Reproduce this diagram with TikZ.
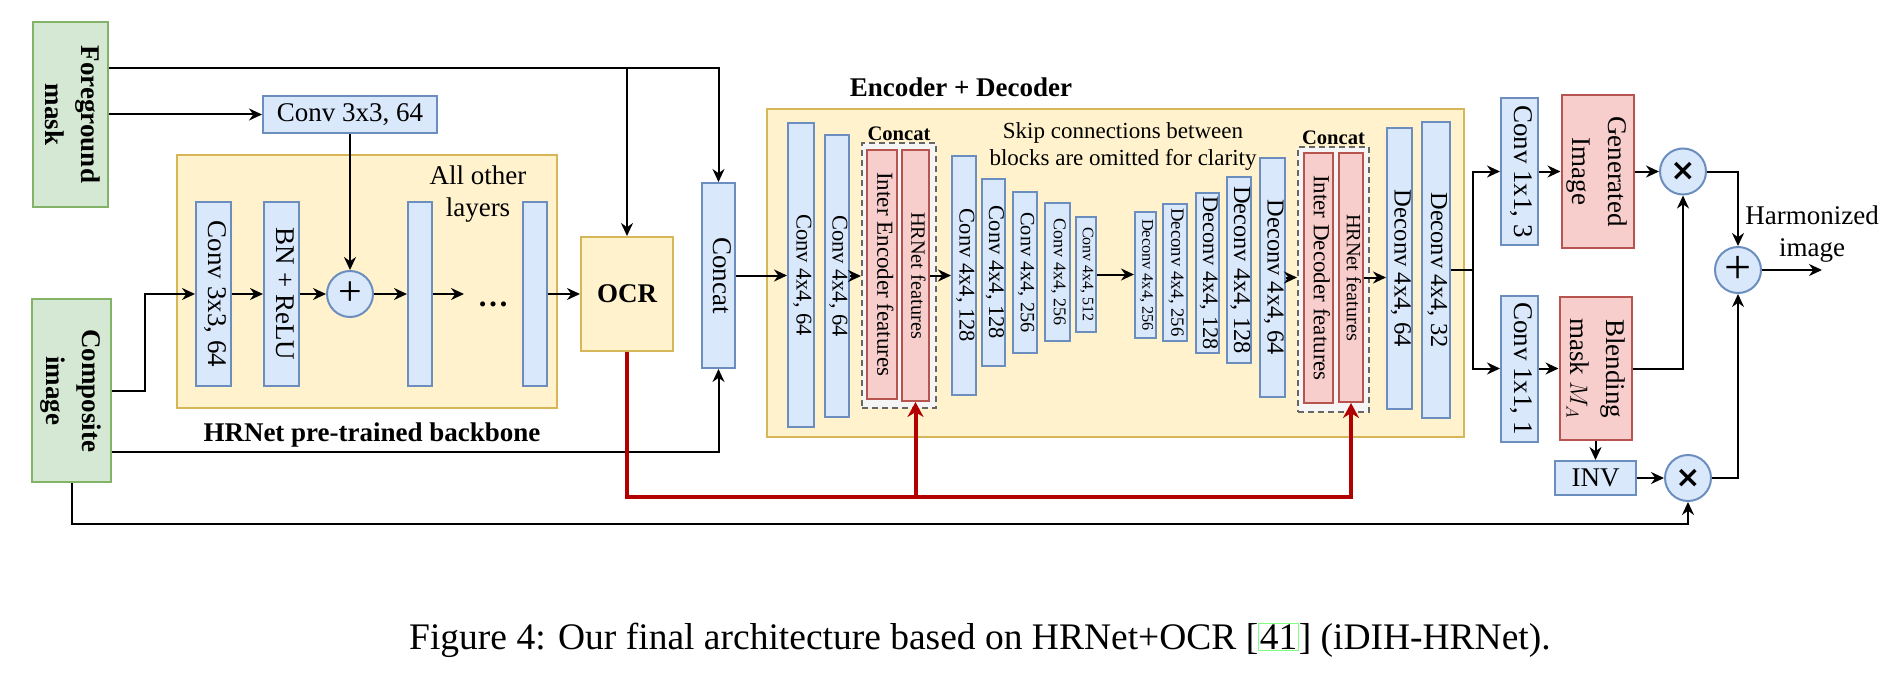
\documentclass[tikz,border=0pt]{standalone}
\usepackage{fontspec}
\setmainfont{Liberation Serif}
\newfontfamily\opfont{DejaVu Sans}
\usepackage{graphicx}
\usepackage{tikz}
\usetikzlibrary{arrows.meta}

\definecolor{blockfill}{HTML}{DAE8FC}
\definecolor{blockdraw}{HTML}{6C8EBF}
\definecolor{inputfill}{HTML}{D5E8D4}
\definecolor{inputdraw}{HTML}{82B366}
\definecolor{groupfill}{HTML}{FFF2CC}
\definecolor{groupdraw}{HTML}{D6B656}
\definecolor{featfill}{HTML}{F8CECC}
\definecolor{featdraw}{HTML}{B85450}
\definecolor{catfill}{HTML}{F5F5F5}
\definecolor{catdraw}{HTML}{666666}
\definecolor{ocrline}{HTML}{B20000}
\definecolor{capgreen}{HTML}{80FF80}

\newcommand{\fsz}[2]{\fontsize{#1}{#2}\selectfont}
\newcommand{\vtext}[1]{\rotatebox{-90}{\begin{tabular}{@{}c@{}}#1\end{tabular}}}
\newcommand{\opx}{{\opfont\bfseries\fsz{30}{30}×}}
\newcommand{\opplus}{{\fsz{42}{42}+}}
\setlength{\fboxsep}{0.5pt}
\setlength{\fboxrule}{1pt}

\tikzset{
	blk/.style={draw=blockdraw, fill=blockfill, line width=2pt, inner sep=0pt},
	inp/.style={draw=inputdraw, fill=inputfill, line width=2pt, inner sep=0pt, font=\bfseries\fsz{27}{36}},
	grp/.style={draw=groupdraw, fill=groupfill, line width=2pt, inner sep=0pt},
	feat/.style={draw=featdraw, fill=featfill, line width=2pt, inner sep=0pt},
	catbox/.style={draw=catdraw, fill=catfill, line width=2pt, dash pattern=on 6pt off 4pt, inner sep=0pt},
	catlbl/.style={font=\bfseries\fsz{20.6}{24}, inner sep=1pt},
	op/.style={circle, draw=blockdraw, fill=blockfill, line width=2pt, minimum size=46pt, inner sep=0pt},
	wire/.style={line width=2pt, -{Stealth[length=13pt, width=12pt]}},
	ocrwire/.style={ocrline, line width=4pt, -{Stealth[length=15pt, width=16pt]}}
}

\begin{document}
\begin{tikzpicture}[x=1pt, y=-1pt]

	\fill[white] (0, 0) rectangle (1898, 690);
	\useasboundingbox (0, 0) rectangle (1898, 690);

	% Inputs

	\node[inp, minimum width=75pt, minimum height=185pt] (fgmask) at (70.5, 114.5) {\vtext{Foreground\\mask}};
	\node[inp, minimum width=79pt, minimum height=183pt] (compimg) at (71.5, 390.5) {\vtext{Composite\\image}};

	% HRNet backbone

	\node[grp, minimum width=380pt, minimum height=253pt] (bbone) at (367, 281.5) {};
	\node[blk, font=\fsz{27}{32}, minimum width=174pt, minimum height=37pt] (conv3) at (350, 114.5) {Conv 3x3, 64};
	\node[blk, font=\fsz{27}{27}, minimum width=35pt, minimum height=184pt] (bbconv) at (213.5, 294) {\vtext{Conv 3x3, 64}};
	\node[blk, font=\fsz{27}{27}, minimum width=35pt, minimum height=184pt] (bnrelu) at (281.5, 294) {\vtext{BN + ReLU}};
	\node[op] (plus) at (350, 294) {\opplus};
	\node[blk, minimum width=24pt, minimum height=184pt] (layerA) at (420, 294) {};
	\node[blk, minimum width=24pt, minimum height=184pt] (layerB) at (535, 294) {};
	\node[font=\bfseries\fsz{31}{32}] (dots) at (493, 304) {\dots};
	\coordinate (dotsin) at (464, 294);
	\node[align=center, font=\fsz{27}{32}] (otherlbl) at (478, 194) {All other\\layers};
	\node[font=\bfseries\fsz{27}{32}] (bbonelbl) at (372, 435) {HRNet pre-trained backbone};

	\node[grp, font=\bfseries\fsz{27}{32}, minimum width=92pt, minimum height=114pt] (ocr) at (627, 294) {OCR};
	\node[blk, font=\fsz{27}{27}, minimum width=33pt, minimum height=185pt] (concat) at (718.5, 275.5) {\vtext{Concat}};

	% Encoder + decoder

	\node[grp, minimum width=697pt, minimum height=328pt] (encdec) at (1115.5, 273) {};
	\node[font=\bfseries\fsz{27}{32}] (enclbl) at (961, 87) {Encoder + Decoder};
	\node[align=center, font=\fsz{23}{27}] (skiplbl) at (1123, 146.5) {Skip connections between\\blocks are omitted for clarity};

	\node[blk, font=\fsz{22.5}{22.5}, minimum width=26pt, minimum height=304pt] (e1) at (801, 275) {\vtext{Conv 4x4, 64}};
	\node[blk, font=\fsz{22.5}{22.5}, minimum width=24pt, minimum height=282pt] (e2) at (837, 276) {\vtext{Conv 4x4, 64}};
	\node[catbox, minimum width=74pt, minimum height=265pt] (cat1) at (899, 275.5) {};
	\node[catlbl, above] at (cat1.north) {Concat};
	\node[feat, font=\fsz{23}{23}, minimum width=30pt, minimum height=249pt] (ienc) at (882, 274.5) {\vtext{Inter Encoder features}};
	\node[feat, font=\fsz{20.3}{20.3}, minimum width=27pt, minimum height=251pt] (hrf1) at (915.5, 275.5) {\vtext{HRNet features}};
	\node[blk, font=\fsz{22.5}{22.5}, minimum width=24pt, minimum height=239pt] (e3) at (964, 275.5) {\vtext{Conv 4x4, 128}};
	\node[blk, font=\fsz{22.5}{22.5}, minimum width=23pt, minimum height=187pt] (e4) at (993.5, 272.5) {\vtext{Conv 4x4, 128}};
	\node[blk, font=\fsz{20.3}{20.3}, minimum width=24pt, minimum height=161pt] (e5) at (1025, 272.5) {\vtext{Conv 4x4, 256}};
	\node[blk, font=\fsz{18}{18}, minimum width=25pt, minimum height=138pt] (e6) at (1057.5, 272) {\vtext{Conv 4x4, 256}};
	\node[blk, font=\fsz{16}{16}, minimum width=20pt, minimum height=115pt] (e7) at (1086, 274.5) {\vtext{Conv 4x4, 512}};
	\node[blk, font=\fsz{16.3}{16.3}, minimum width=21pt, minimum height=126pt] (d1) at (1145.5, 275) {\vtext{Deconv 4x4, 256}};
	\node[blk, font=\fsz{18.7}{18.7}, minimum width=24pt, minimum height=137pt] (d2) at (1175, 272.5) {\vtext{Deconv 4x4, 256}};
	\node[blk, font=\fsz{22.3}{22.3}, minimum width=23pt, minimum height=160pt] (d3) at (1207.5, 273) {\vtext{Deconv 4x4, 128}};
	\node[blk, font=\fsz{24.4}{24.4}, minimum width=24pt, minimum height=186pt] (d4) at (1239, 270) {\vtext{Deconv 4x4, 128}};
	\node[blk, font=\fsz{24.4}{24.4}, minimum width=23pt, minimum height=239pt] (d5) at (1272.5, 277.5) {\vtext{Deconv 4x4, 64}};
	\node[catbox, minimum width=71pt, minimum height=265pt] (cat2) at (1333.5, 279.5) {};
	\node[catlbl, above] at (cat2.north) {Concat};
	\node[feat, font=\fsz{23}{23}, minimum width=29pt, minimum height=250pt] (idec) at (1318.5, 278) {\vtext{Inter Decoder features}};
	\node[feat, font=\fsz{20.3}{20.3}, minimum width=24pt, minimum height=249pt] (hrf2) at (1351, 277.5) {\vtext{HRNet features}};
	\node[blk, font=\fsz{24.7}{24.7}, minimum width=25pt, minimum height=281pt] (d6) at (1399.5, 268.5) {\vtext{Deconv 4x4, 64}};
	\node[blk, font=\fsz{24.4}{24.4}, minimum width=28pt, minimum height=296pt] (d7) at (1436, 270) {\vtext{Deconv 4x4, 32}};

	% Output heads

	\node[blk, font=\fsz{27}{27}, minimum width=37pt, minimum height=146pt] (c11a) at (1519.5, 171.5) {\vtext{Conv 1x1, 3}};
	\node[feat, font=\fsz{27}{36}, minimum width=69pt, minimum height=153pt] (gen) at (1597.5, 171.5) {\vtext{Generated\\Image}};
	\node[blk, font=\fsz{27}{27}, minimum width=37pt, minimum height=146pt] (c11b) at (1519.5, 368.5) {\vtext{Conv 1x1, 1}};
	\node[feat, font=\fsz{27}{36}, minimum width=67pt, minimum height=143pt] (blend) at (1595.5, 368.5) {\vtext{Blending\\mask $M_A$}};
	\node[blk, font=\fsz{27}{32}, minimum width=81pt, minimum height=34pt] (inv) at (1595.5, 478) {INV};
	\node[op] (mul1) at (1683, 171.5) {\opx};
	\node[op] (mul2) at (1688, 478) {\opx};
	\node[op] (sum) at (1738, 270) {\fsz{48}{48}+};
	\coordinate (out) at (1822, 270);
	\node[align=center, font=\fsz{27}{32}] (harmlbl) at (1812, 234) {Harmonized\\image};

	% Wires

	\begin{scope}[wire]

		\coordinate (fgtop) at ([yshift=46.5pt]fgmask.east);
		\draw (fgtop) -| (concat.north);
		\draw (fgtop -| ocr.north) -- (ocr.north);
		\draw (fgmask.east) -- (conv3.west);
		\draw (conv3.south) -- (plus.north);

		\draw (compimg.east) -- ++(33, 0) |- (bbconv.west);
		\draw ([yshift=-61.5pt]compimg.east) -| (concat.south);
		\draw (compimg.south) -- ++(0, 41) -| (mul2.south);

		\draw (bbconv) -- (bnrelu);
		\draw (bnrelu) -- (plus);
		\draw (plus) -- (layerA);
		\draw (layerA.east) -- (dotsin);
		\draw (layerB) -- (ocr);

		\draw (concat.east) -- (concat.east -| e1.west);
		\draw (e2.east) -- (e2.east -| cat1.west);
		\draw (hrf1.east) -- (hrf1.east -| e3.west);
		\draw (e7.east) -- (e7.east -| d1.west);
		\draw (d5.east) -- (d5.east -| cat2.west);
		\draw (hrf2.east) -- (hrf2.east -| d6.west);

		\coordinate (split) at ([xshift=22pt]d7.east);
		\draw (d7.east) -- (split) |- (c11a.west);
		\draw (split) |- (c11b.west);
		\draw (c11a) -- (gen);
		\draw (gen) -- (mul1);
		\draw (c11b) -- (blend);
		\draw (blend.east) -| (mul1.south);
		\draw (blend.south) -- (inv.north);
		\draw (inv) -- (mul2);
		\draw (mul1.east) -| (sum.north);
		\draw (mul2.east) -| (sum.south);
		\draw (sum.east) -- (out);

	\end{scope}

	% OCR features

	\coordinate (redlow) at ([yshift=-145pt]ocr.south);
	\draw[ocrwire] (ocr.south) |- (redlow -| hrf2.south) -- (hrf2.south);
	\draw[ocrwire] (redlow -| hrf1.south) -- (hrf1.south);

	% Caption

	\node[font=\fsz{37.5}{44}] (caption) at (980, 640) {Figure 4: Our final architecture based on HRNet+OCR [{\color{capgreen}\fbox{\color{black}41}}] (iDIH-HRNet).};

\end{tikzpicture}
\end{document}
